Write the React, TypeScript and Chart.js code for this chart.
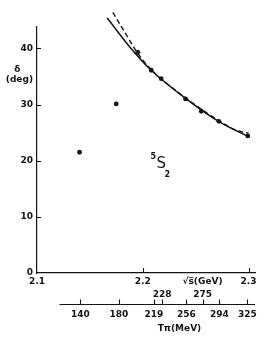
import { useEffect, useRef } from 'react';
import { Chart, registerables } from 'chart.js';

Chart.register(...registerables);

// Measured phase shifts (sqrt(s) in GeV, delta in deg)
const POINT_SQRT_S = [2.1402, 2.1749, 2.1953, 2.2080, 2.2174, 2.2404, 2.2553, 2.2719, 2.2993];
const POINT_DELTA = [21.5, 30.1, 39.3, 36.1, 34.6, 31.0, 28.8, 27.0, 24.4];

// Solid curve
const SOLID_SQRT_S = [2.1664, 2.1875, 2.2080, 2.2404, 2.2716, 2.2995];
const SOLID_DELTA = [45.4, 40.3, 36.1, 31.1, 27.0, 24.3];

// Dashed curve
const DASHED_SQRT_S = [2.1717, 2.1835, 2.1953, 2.2080, 2.2404, 2.2716, 2.2884, 2.3000];
const DASHED_DELTA = [46.4, 42.7, 39.1, 36.2, 31.2, 27.15, 25.4, 24.9];

// Axes
const Y_MIN = 0;
const Y_MAX = 43.8;
const Y_TICKS = [0, 10, 20, 30, 40];
const Y_TITLE = ['δ    ', '(deg)'];
const Y_TITLE_AT = 35.3;

const X_MIN = 2.1;
const X_MAX = 2.3061;
const X_TICKS = [2.1, 2.2, 2.3];
const X_TICK_LABELS = ['2.1', '2.2', '2.3'];
const X_TITLE = '√s̅(GeV)';
const X_TITLE_AT = 2.2565;

// Pion kinetic energy axis (labels in MeV, positions in sqrt(s))
const T_LABELS = ['140', '180', '219', '228', '256', '275', '294', '325'];
const T_AT = [2.1411, 2.1775, 2.2105, 2.2182, 2.2412, 2.2565, 2.2725, 2.2990];
const T_ABOVE = [false, false, false, true, false, true, false, false];
const T_TITLE = 'Tπ(MeV)';
const T_TITLE_AT = 2.2347;
const T_LINE_FROM = 2.1213;

// State label
const STATE_PRE = '5';
const STATE_MAIN = 'S';
const STATE_SUB = '2';
const STATE_AT_X = 2.2175;
const STATE_AT_Y = 19.3;

const INK = '#141414';
const FONT = { family: 'DejaVu Sans', size: 9, weight: 'bold' as const };

const axisMarks = {
  id: 'axisMarks',
  afterDraw(chart: any) {
    const ctx = chart.ctx;
    const area = chart.chartArea;
    const x = chart.scales.x;
    const y = chart.scales.y;
    const xT = chart.scales.xT;
    ctx.save();
    ctx.strokeStyle = INK;
    ctx.lineWidth = 1.1;
    const line = (x1: number, y1: number, x2: number, y2: number) => {
      ctx.beginPath();
      ctx.moveTo(x1, y1);
      ctx.lineTo(x2, y2);
      ctx.stroke();
    };
    Y_TICKS.forEach((v) => {
      if (v === Y_MIN) return;
      const py = Math.round(y.getPixelForValue(v)) + 0.5;
      line(area.left, py, area.left + 4, py);
    });
    X_TICKS.forEach((v) => {
      if (v === X_MIN) return;
      const px = Math.round(x.getPixelForValue(v)) + 0.5;
      line(px, area.bottom, px, area.bottom - 5);
    });
    const ly = Math.round(xT.top) + 0.5;
    line(x.getPixelForValue(T_LINE_FROM), ly, area.right, ly);
    T_AT.forEach((v) => {
      const px = Math.round(x.getPixelForValue(v)) + 0.5;
      line(px, ly, px, ly - 5);
    });

    const sx = x.getPixelForValue(STATE_AT_X);
    const sy = y.getPixelForValue(STATE_AT_Y);
    ctx.fillStyle = INK;
    ctx.textAlign = 'center';
    ctx.textBaseline = 'middle';
    ctx.font = '15px "DejaVu Sans"';
    ctx.fillText(STATE_MAIN, sx, sy);
    ctx.font = 'bold 8px "DejaVu Sans"';
    ctx.fillText(STATE_PRE, sx - 8, sy - 8);
    ctx.fillText(STATE_SUB, sx + 6, sy + 10);
    ctx.restore();
  },
};

const hiddenGrid = { display: false, drawTicks: false };

export default function App() {
  const ref = useRef<HTMLCanvasElement | null>(null);

  useEffect(() => {
    if (!ref.current) return;
    const chart = new Chart(ref.current, {
      type: 'scatter',
      data: {
        datasets: [
          {
            data: SOLID_SQRT_S.map((v, i) => ({ x: v, y: SOLID_DELTA[i] })),
            showLine: true,
            borderColor: INK,
            borderWidth: 1.5,
            pointRadius: 0,
            cubicInterpolationMode: 'monotone',
            clip: false,
          },
          {
            data: DASHED_SQRT_S.map((v, i) => ({ x: v, y: DASHED_DELTA[i] })),
            showLine: true,
            borderColor: INK,
            borderWidth: 1.4,
            borderDash: [5, 3],
            pointRadius: 0,
            cubicInterpolationMode: 'monotone',
            clip: false,
          },
          {
            data: POINT_SQRT_S.map((v, i) => ({ x: v, y: POINT_DELTA[i] })),
            showLine: false,
            pointRadius: 2.4,
            pointBackgroundColor: INK,
            pointBorderColor: INK,
            pointBorderWidth: 0,
            clip: false,
          },
        ],
      },
      options: {
        animation: false,
        responsive: false,
        layout: { padding: { top: 27, right: 22, left: 0, bottom: 0 } },
        plugins: { legend: { display: false }, tooltip: { enabled: false } },
        scales: {
          y: {
            type: 'linear',
            position: 'left',
            min: Y_MIN,
            max: Y_MAX,
            afterFit: (s: any) => { s.width = 37; },
            afterBuildTicks: (s: any) => {
              s.ticks = [...Y_TICKS, Y_TITLE_AT].sort((a, b) => a - b).map((v) => ({ value: v }));
            },
            ticks: {
              autoSkip: false,
              padding: 4,
              color: INK,
              font: FONT,
              callback: (v: any) => (v === Y_TITLE_AT ? Y_TITLE : String(v)),
            },
            grid: hiddenGrid,
            border: { display: true, color: INK, width: 1.2 },
          },
          x: {
            type: 'linear',
            position: 'bottom',
            weight: 0,
            min: X_MIN,
            max: X_MAX,
            afterFit: (s: any) => { s.height = 16; },
            afterBuildTicks: (s: any) => {
              s.ticks = [...X_TICKS, X_TITLE_AT].sort((a, b) => a - b).map((v) => ({ value: v }));
            },
            ticks: {
              autoSkip: false,
              maxRotation: 0,
              padding: 3,
              color: INK,
              font: FONT,
              callback: (v: any) => {
                if (v === X_TITLE_AT) return X_TITLE;
                const i = X_TICKS.indexOf(v);
                return i >= 0 ? X_TICK_LABELS[i] : '';
              },
            },
            grid: hiddenGrid,
            border: { display: true, color: INK, width: 1.2 },
          },
          xU: {
            type: 'linear',
            position: 'bottom',
            weight: 1,
            min: X_MIN,
            max: X_MAX,
            afterFit: (s: any) => { s.height = 15; },
            afterBuildTicks: (s: any) => {
              s.ticks = T_AT.filter((_, i) => T_ABOVE[i]).map((v) => ({ value: v }));
            },
            ticks: {
              autoSkip: false,
              maxRotation: 0,
              padding: 0,
              color: INK,
              font: FONT,
              callback: (v: any) => {
                const i = T_AT.indexOf(v);
                return i >= 0 ? T_LABELS[i] : '';
              },
            },
            grid: hiddenGrid,
            border: { display: false },
          },
          xT: {
            type: 'linear',
            position: 'bottom',
            weight: 2,
            min: X_MIN,
            max: X_MAX,
            afterFit: (s: any) => { s.height = 18; },
            afterBuildTicks: (s: any) => {
              s.ticks = T_AT.map((v) => ({ value: v }));
            },
            ticks: {
              autoSkip: false,
              maxRotation: 0,
              padding: 5,
              color: INK,
              font: FONT,
              callback: (v: any) => {
                const i = T_AT.indexOf(v);
                return i >= 0 && !T_ABOVE[i] ? T_LABELS[i] : '';
              },
            },
            grid: hiddenGrid,
            border: { display: false },
          },
          xTT: {
            type: 'linear',
            position: 'bottom',
            weight: 3,
            min: X_MIN,
            max: X_MAX,
            afterFit: (s: any) => { s.height = 24; },
            afterBuildTicks: (s: any) => {
              s.ticks = [{ value: T_TITLE_AT }];
            },
            ticks: {
              autoSkip: false,
              maxRotation: 0,
              padding: 1,
              color: INK,
              font: FONT,
              callback: () => T_TITLE,
            },
            grid: hiddenGrid,
            border: { display: false },
          },
        },
      } as any,
      plugins: [axisMarks],
    });
    return () => chart.destroy();
  }, []);

  return (
    <div style={{ position: 'fixed', left: 0, top: 0, width: 277, height: 346, background: '#fff' }}>
      <canvas ref={ref} width={277} height={346} />
    </div>
  );
}
